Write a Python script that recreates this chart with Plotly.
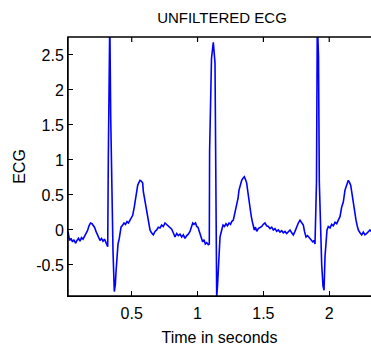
import plotly.graph_objects as go

time_s = [
    0.0163, 0.0216, 0.0277, 0.0391, 0.0505, 0.0619, 0.0733, 0.0847, 0.0961, 0.1074,
    0.1188, 0.1302, 0.1416, 0.1530, 0.1644, 0.1758, 0.1872, 0.1986, 0.2084, 0.2175,
    0.2289, 0.2403, 0.2494, 0.2593, 0.2707, 0.2821, 0.2935, 0.3049, 0.3178,
    0.3223, 0.3276, 0.3337, 0.3405, 0.3481, 0.3580, 0.3679, 0.3755, 0.3808, 0.3884,
    0.3960, 0.4058, 0.4188,
    0.4317, 0.4415, 0.4529, 0.4643, 0.4757, 0.4871, 0.4985, 0.5076, 0.5197, 0.5266,
    0.5327, 0.5403, 0.5456, 0.5554, 0.5630, 0.5729, 0.5835, 0.5881, 0.5972, 0.6086,
    0.6162, 0.6260, 0.6336, 0.6390, 0.6503, 0.6640, 0.6769, 0.6898, 0.7020, 0.7149,
    0.7278, 0.7400, 0.7529, 0.7658, 0.7779, 0.7908, 0.8037, 0.8159, 0.8288, 0.8417,
    0.8538, 0.8667, 0.8797, 0.8918, 0.9047, 0.9176, 0.9297, 0.9427, 0.9526, 0.9632,
    0.9730, 0.9844, 0.9936, 1.0034, 1.0133, 1.0224, 1.0315, 1.0391, 1.0490, 1.0588,
    1.0695, 1.0816, 1.0892,
    1.0915, 1.1059, 1.1196, 1.1325, 1.1401, 1.1454, 1.1515, 1.1576, 1.1629, 1.1705,
    1.1834, 1.1933, 1.2046, 1.2160, 1.2274, 1.2388, 1.2502, 1.2593, 1.2714, 1.2843,
    1.2973, 1.3071, 1.3147, 1.3246, 1.3352, 1.3451, 1.3550, 1.3641, 1.3732, 1.3793,
    1.3854, 1.3922, 1.3983, 1.4074, 1.4157, 1.4233, 1.4309, 1.4400, 1.4491, 1.4613,
    1.4742, 1.4871, 1.4992, 1.5121, 1.5250, 1.5372, 1.5501, 1.5630, 1.5752, 1.5881,
    1.6010, 1.6131, 1.6260, 1.6390, 1.6511, 1.6640, 1.6769, 1.6891, 1.7020, 1.7149,
    1.7270, 1.7399, 1.7528, 1.7650, 1.7779, 1.7908, 1.8030, 1.8121, 1.8235, 1.8349,
    1.8485, 1.8614, 1.8743, 1.8842, 1.8918,
    1.8994, 1.9032, 1.9093, 1.9184, 1.9245, 1.9351, 1.9427, 1.9526, 1.9602, 1.9678,
    1.9753, 1.9829, 1.9928, 2.0057, 2.0186, 2.0308, 2.0437, 2.0566, 2.0687, 2.0816,
    2.0945, 2.1067, 2.1196, 2.1325, 2.1446, 2.1537, 2.1628, 2.1727, 2.1826, 2.1932,
    2.2031, 2.2122, 2.2206, 2.2335, 2.2464, 2.2585, 2.2714, 2.2843, 2.2965, 2.3094,
    2.3246,
]

ecg_value = [
    -0.02, -0.10, -0.15, -0.12, -0.17, -0.14, -0.19, -0.15, -0.12, -0.16,
    -0.11, -0.13, -0.09, -0.07, -0.01, 0.06, 0.10, 0.09, 0.06, 0.04,
    -0.02, -0.08, -0.12, -0.15, -0.12, -0.16, -0.13, -0.18, -0.24,
    1.00, 2.55, 3.00, 1.62, 0.65, -0.30, -0.88, -0.78, -0.60, -0.35,
    -0.20, -0.12, 0.04,
    0.07, 0.10, 0.08, 0.12, 0.10, 0.14, 0.17, 0.21, 0.33, 0.40,
    0.52, 0.58, 0.64, 0.68, 0.71, 0.70, 0.67, 0.55, 0.45, 0.29,
    0.22, 0.14, 0.06, 0.00, -0.04, -0.07, -0.02, 0.00, 0.04, 0.03,
    0.07, 0.05, 0.10, 0.08, 0.05, 0.03, 0.01, -0.04, -0.10, -0.05,
    -0.08, -0.06, -0.10, -0.07, -0.12, -0.08, -0.06, -0.02, 0.06, 0.10,
    0.08, 0.10, 0.05, 0.04, -0.02, -0.08, -0.15, -0.17, -0.14, -0.20,
    -0.18, -0.21, -0.20,
    1.12, 2.45, 2.68, 2.39, 0.30, -0.95, -0.80, -0.50, -0.30, -0.10,
    0.00, 0.07, 0.05, 0.09, 0.06, 0.10, 0.08, 0.12, 0.14, 0.24,
    0.33, 0.45, 0.57, 0.65, 0.71, 0.74, 0.76, 0.72, 0.67, 0.58,
    0.48, 0.38, 0.29, 0.20, 0.12, 0.06, 0.00, 0.04, -0.02, 0.02,
    0.03, 0.05, 0.08, 0.10, 0.06, 0.05, 0.02, 0.04, 0.00, 0.02,
    -0.02, 0.00, -0.03, -0.01, -0.04, -0.02, -0.05, -0.03, 0.00, -0.04,
    -0.07, -0.02, 0.05, 0.10, 0.14, 0.10, 0.07, -0.02, -0.10, -0.08,
    -0.12, -0.14, -0.17, -0.15, -0.20,
    0.38, 0.69, 3.00, 2.48, 0.69, -0.14, -0.50, -0.80, -0.86, -0.38,
    -0.12, 0.00, 0.05, 0.03, 0.08, 0.06, 0.11, 0.09, 0.14, 0.19,
    0.33, 0.40, 0.57, 0.64, 0.71, 0.68, 0.64, 0.52, 0.38, 0.25,
    0.14, 0.06, 0.00, -0.04, -0.07, -0.03, -0.07, -0.05, -0.02, 0.00,
    -0.03,
]

x_tick_vals = [0.5, 1, 1.5, 2]
x_tick_text = ["0.5", "1", "1.5", "2"]
y_tick_vals = [-0.5, 0, 0.5, 1, 1.5, 2, 2.5]
y_tick_text = ["-0.5", "0", "0.5", "1", "1.5", "2", "2.5"]

FONT = "Liberation Sans, Arial, sans-serif"
PLOT_H = 349 - 37 - 53
TICK_LEN = 5

fig = go.Figure()
fig.add_trace(go.Scatter(
    x=time_s, y=ecg_value, mode="lines",
    line=dict(color="#0000FF", width=1.6),
    hoverinfo="skip", showlegend=False,
))

# axes box: rectangle whose right edge lies outside the canvas (as in the cropped original)
fig.add_shape(type="rect", xref="paper", yref="paper", x0=0, x1=1.05, y0=0, y1=1,
              line=dict(color="black", width=1.5), fillcolor="rgba(0,0,0,0)",
              layer="above")
for tv in x_tick_vals:
    fig.add_shape(type="line", xref="x", yref="paper", x0=tv, x1=tv,
                  y0=1, y1=1 - TICK_LEN / PLOT_H, line=dict(color="black", width=1.2),
                  layer="above")

fig.update_layout(
    width=371, height=349,
    margin=dict(l=68, r=0, t=37, b=53, autoexpand=False),
    paper_bgcolor="white", plot_bgcolor="white",
    font=dict(family=FONT, size=16, color="black"),
    title=dict(text="UNFILTERED ECG", x=222 / 371, xanchor="center",
               y=1 - 18 / 349, yanchor="middle", yref="container",
               font=dict(family=FONT, size=15, color="black")),
)
fig.update_xaxes(
    range=[0.0163, 2.317], tickvals=x_tick_vals, ticktext=x_tick_text,
    ticks="inside", ticklen=TICK_LEN, tickcolor="black", tickwidth=1,
    showline=True, linecolor="black", linewidth=1, mirror=False,
    showgrid=False, zeroline=False, automargin=False,
    ticklabelstandoff=3,
    title=dict(text="Time in seconds", standoff=10, font=dict(size=16)),
    tickfont=dict(size=16),
)
fig.update_yaxes(
    range=[-0.943, 2.757], tickvals=y_tick_vals, ticktext=y_tick_text,
    ticks="inside", ticklen=TICK_LEN, tickcolor="black", tickwidth=1,
    showline=True, linecolor="black", linewidth=1, mirror=False,
    showgrid=False, zeroline=False, automargin=False,
    title=dict(text="ECG", standoff=6, font=dict(size=16)),
    tickfont=dict(size=16),
)

fig.write_html(
    "out.html",
    config={"displayModeBar": False, "staticPlot": True},
    post_script="document.body.style.margin='0';document.body.style.padding='0';",
)
